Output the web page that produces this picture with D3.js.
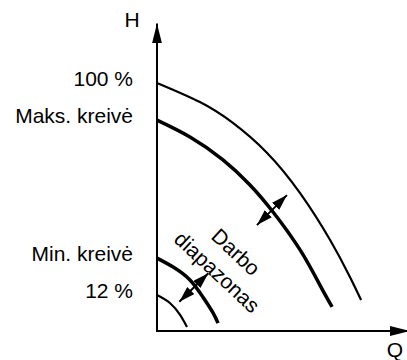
<!DOCTYPE html>
<html>
<head>
<meta charset="utf-8">
<script src="https://cdn.jsdelivr.net/npm/d3@7"></script>
<style>
  body { margin: 0; background: #fff; }
  text { font-family: 'Liberation Sans', Arial, sans-serif; font-size: 21px; fill: #000; }
</style>
</head>
<body>
<script>
// curves, Q and H in % of the 100 % curve shut-off head
const q100 = [0, 17.3, 30.6, 44.4, 57.7, 69.8, 77.8, 82.3]
const h100 = [100, 92.3, 83.9, 71.8, 55.6, 36.7, 21.8, 12.5]
const qMax = [0, 13.3, 26.6, 37.5, 46.8, 57.7, 65.7, 70.6]
const hMax = [85, 78.2, 69, 58.9, 48, 32.7, 18.5, 9.7]
const qMin = [0, 6.5, 13.3, 18.5, 22.6, 24.6]
const hMin = [29.4, 25.8, 20.6, 13.7, 7.3, 3.2]
const q12 = [0, 5.2, 9.3, 12.1]
const h12 = [14.5, 11.3, 6.5, 1.6]

const curveLabels = ['100 %', 'Maks. kreivė', 'Min. kreivė', '12 %']
const bandText = ['Darbo', 'diapazonas']

const width = 407
const height = 360

const x = d3.scaleLinear().domain([0, 100]).range([157, 405])
const y = d3.scaleLinear().domain([0, 100]).range([331, 83])

const svg = d3.select('body').append('svg')
  .attr('width', width)
  .attr('height', height)

const defs = svg.append('defs')

defs.append('marker')
  .attr('id', 'axhead')
  .attr('viewBox', '0 0 20 10')
  .attr('refX', 20).attr('refY', 5)
  .attr('markerUnits', 'userSpaceOnUse')
  .attr('markerWidth', 20).attr('markerHeight', 10)
  .attr('orient', 'auto')
  .append('path').attr('d', 'M0,0 L20,5 L0,10 Z').attr('fill', '#000')

defs.append('marker')
  .attr('id', 'head')
  .attr('viewBox', '0 0 16 10')
  .attr('refX', 16).attr('refY', 5)
  .attr('markerUnits', 'userSpaceOnUse')
  .attr('markerWidth', 16).attr('markerHeight', 10)
  .attr('orient', 'auto-start-reverse')
  .append('path').attr('d', 'M0,0 L16,5 L0,10 Z').attr('fill', '#000')

// axes, no ticks
svg.append('line')
  .attr('x1', x(0)).attr('y1', y(0))
  .attr('x2', x(0)).attr('y2', y(124))
  .attr('stroke', '#000').attr('stroke-width', 2)
  .attr('marker-end', 'url(#axhead)')

svg.append('line')
  .attr('x1', x(0) - 1).attr('y1', y(0))
  .attr('x2', x(102)).attr('y2', y(0))
  .attr('stroke', '#000').attr('stroke-width', 2)
  .attr('marker-end', 'url(#axhead)')

svg.append('text').attr('x', 132).attr('y', 27).attr('text-anchor', 'middle').text('H')
svg.append('text').attr('x', 395).attr('y', 357).attr('text-anchor', 'middle').text('Q')

// curves
const curves = [
  { q: q100, h: h100, w: 2.2 },
  { q: qMax, h: hMax, w: 3.5 },
  { q: qMin, h: hMin, w: 3.5 },
  { q: q12, h: h12, w: 2.2 }
]

const line = d3.line()
  .x(d => x(d[0]))
  .y(d => y(d[1]))
  .curve(d3.curveNatural)

svg.append('g')
  .selectAll('path')
  .data(curves)
  .enter()
  .append('path')
  .attr('d', d => line(d.q.map((v, i) => [v, d.h[i]])))
  .attr('fill', 'none')
  .attr('stroke', '#000')
  .attr('stroke-width', d => d.w)

svg.append('g')
  .selectAll('text')
  .data(curves)
  .enter()
  .append('text')
  .attr('x', 133)
  .attr('y', d => y(d.h[0]) + 3)
  .attr('text-anchor', 'end')
  .text((d, i) => curveLabels[i])

// double arrows across the working band
const arrows = [
  [[40.3, 42.7], [52.4, 54.8]],
  [[9.0, 11.8], [20.7, 23.3]]
]

svg.append('g')
  .selectAll('line')
  .data(arrows)
  .enter()
  .append('line')
  .attr('x1', d => x(d[0][0])).attr('y1', d => y(d[0][1]))
  .attr('x2', d => x(d[1][0])).attr('y2', d => y(d[1][1]))
  .attr('stroke', '#000').attr('stroke-width', 2)
  .attr('marker-start', 'url(#head)')
  .attr('marker-end', 'url(#head)')

const textPos = [[31.9, 31.9], [24.3, 23.8]]

svg.append('g')
  .selectAll('text')
  .data(bandText)
  .enter()
  .append('text')
  .attr('transform', (d, i) => `translate(${x(textPos[i][0])},${y(textPos[i][1])}) rotate(43)`)
  .attr('text-anchor', 'middle')
  .attr('dominant-baseline', 'central')
  .text(d => d)
</script>
</body>
</html>
